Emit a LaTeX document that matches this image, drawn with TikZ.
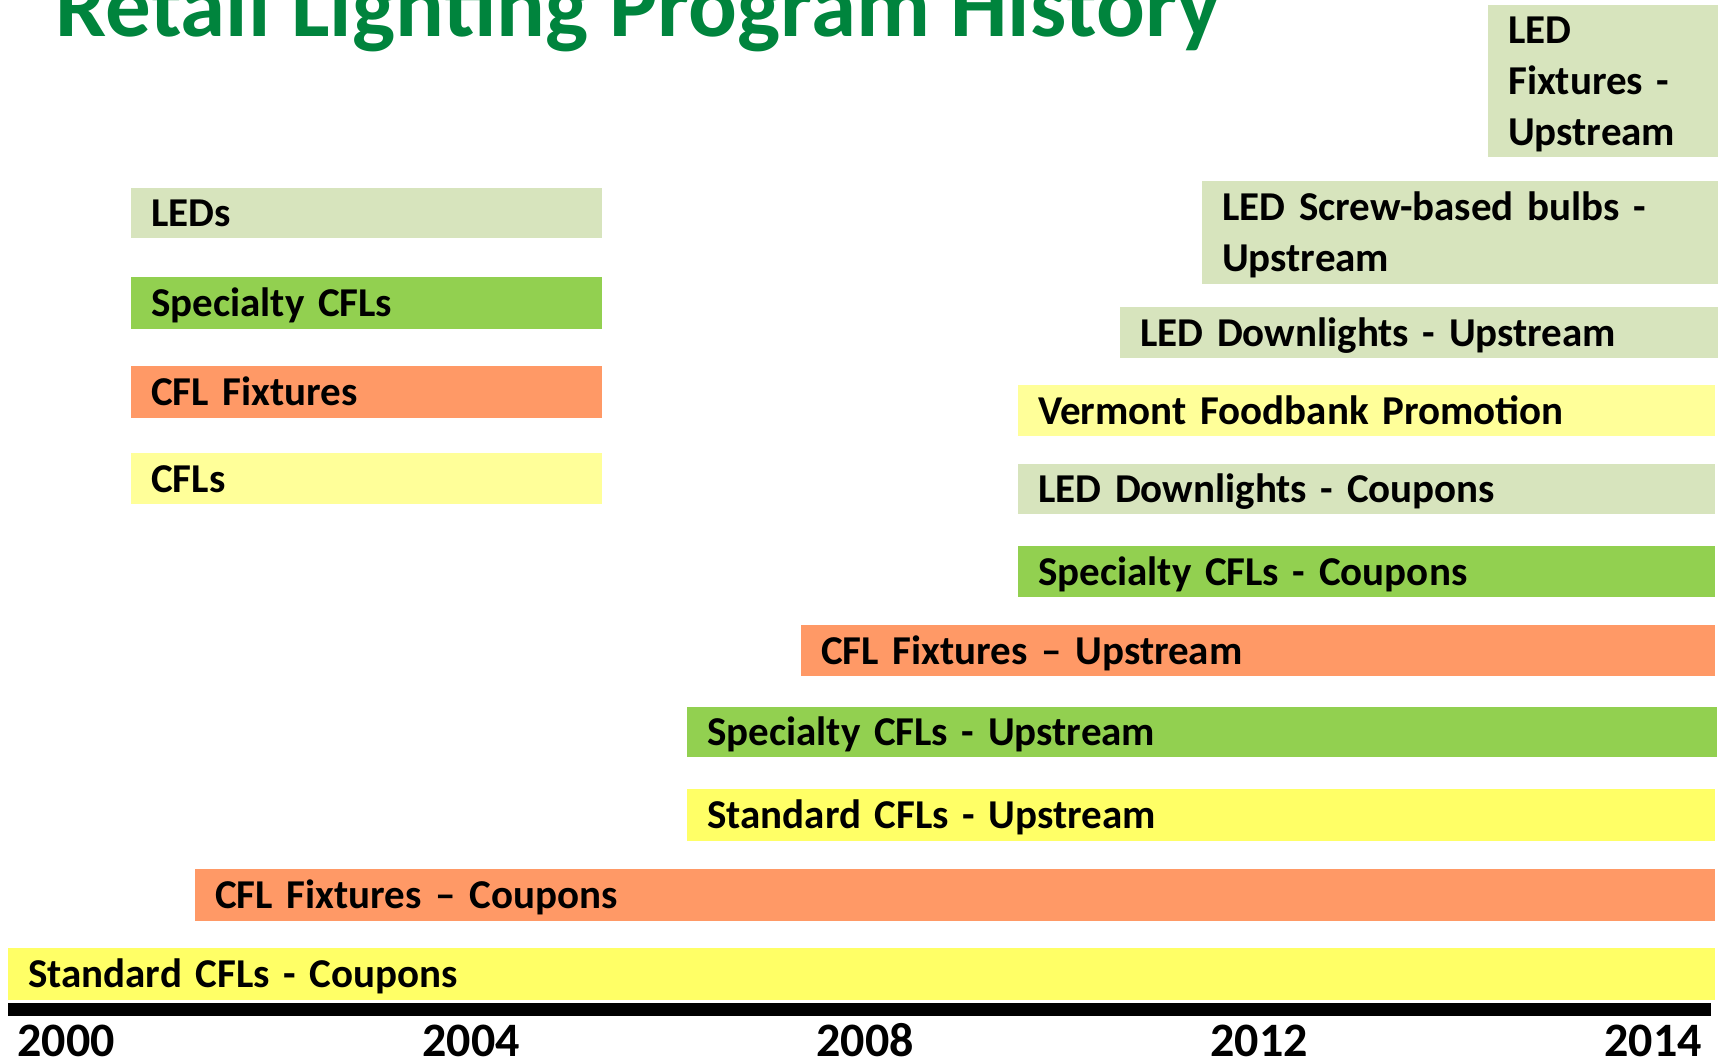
\documentclass[tikz,border=0pt]{standalone}
\usepackage{fontspec}
\setmainfont{Carlito}
\definecolor{ledgreen}{HTML}{D7E4BD}
\definecolor{cflgreen}{HTML}{92D050}
\definecolor{fixorange}{HTML}{FF9966}
\definecolor{paleyellow}{HTML}{FFFF99}
\definecolor{stdyellow}{HTML}{FFFF66}
\definecolor{titlegreen}{HTML}{00843D}
\begin{document}
\begin{tikzpicture}[x=1pt,y=-1pt,
    bar/.style={anchor=north west,inner xsep=20pt,inner ysep=0pt,align=left,
      text height=27pt,text depth=0pt,font=\fontsize{41}{51}\selectfont\bfseries},
    year/.style={anchor=base,font=\fontsize{48}{50}\selectfont\bfseries}]
        \clip (0,0) rectangle (1723,1060);
        \node[anchor=base west,text=titlegreen,inner sep=0pt,font=\fontsize{91}{100}\selectfont\bfseries] (title) at (55,36) {Retail Lighting Program History};
        % legend
        \node[bar,fill=ledgreen,text width=431pt,minimum height=50pt] (leds) at (131,188) {LEDs};
        \node[bar,fill=cflgreen,text width=431pt,minimum height=52pt] (spec) at (131,277) {Specialty CFLs};
        \node[bar,fill=fixorange,text width=431pt,minimum height=52pt] (fix) at (131,366) {CFL Fixtures};
        \node[bar,fill=paleyellow,text width=431pt,minimum height=51pt] (cfls) at (131,453) {CFLs};
        % programs
        \node[bar,fill=ledgreen,text width=190pt,minimum height=152pt,text depth=102pt] (ledfixup) at (1488,5) {LED\\Fixtures -\\Upstream};
        \node[bar,fill=ledgreen,text width=476pt,minimum height=103pt,text depth=51pt] (ledscrewup) at (1202,181) {LED Screw-based bulbs -\\Upstream};
        \node[bar,fill=ledgreen,text width=558pt,minimum height=51pt] (leddlup) at (1120,307) {LED Downlights - Upstream};
        \node[bar,fill=paleyellow,text width=657pt,minimum height=51pt] (foodbank) at (1018,385) {Vermont Foodbank Promotion};
        \node[bar,fill=ledgreen,text width=657pt,minimum height=50pt] (leddlcoup) at (1018,464) {LED Downlights - Coupons};
        \node[bar,fill=cflgreen,text width=657pt,minimum height=51pt] (speccoup) at (1018,546) {Specialty CFLs - Coupons};
        \node[bar,fill=fixorange,text width=874pt,minimum height=51pt] (fixup) at (801,625) {CFL Fixtures -- Upstream};
        \node[bar,fill=cflgreen,text width=990pt,minimum height=50pt] (specup) at (687,707) {Specialty CFLs - Upstream};
        \node[bar,fill=stdyellow,text width=988pt,minimum height=52pt] (stdup) at (687,789) {Standard CFLs - Upstream};
        \node[bar,fill=fixorange,text width=1480pt,minimum height=52pt] (fixcoup) at (195,869) {CFL Fixtures -- Coupons};
        \node[bar,fill=stdyellow,text width=1667pt,minimum height=52pt] (stdcoup) at (8,948) {Standard CFLs - Coupons};
        % time axis
        \fill[black] (8,1003) rectangle (1711,1016);
        \node[year] (y2000) at (66,1056) {2000};
        \node[year] (y2004) at (471,1056) {2004};
        \node[year] (y2008) at (865,1056) {2008};
        \node[year] (y2012) at (1259,1056) {2012};
        \node[year] (y2014) at (1653,1056) {2014};
      \end{tikzpicture}
\end{document}
